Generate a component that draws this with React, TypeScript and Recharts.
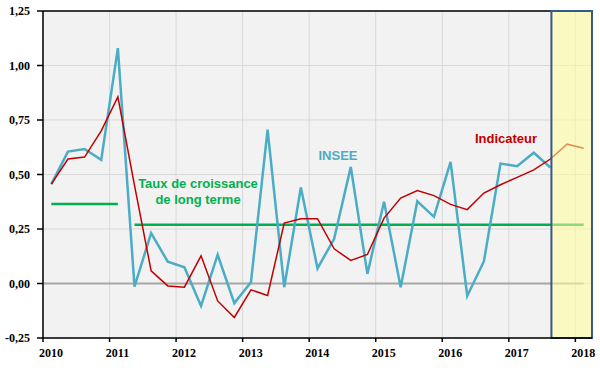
import { LineChart, Line, XAxis, YAxis, CartesianGrid, ReferenceArea, ReferenceLine } from 'recharts';

// trimestres 2010T1 .. 2018T1
const trimestres = [
  '2010T1', '2010T2', '2010T3', '2010T4',
  '2011T1', '2011T2', '2011T3', '2011T4',
  '2012T1', '2012T2', '2012T3', '2012T4',
  '2013T1', '2013T2', '2013T3', '2013T4',
  '2014T1', '2014T2', '2014T3', '2014T4',
  '2015T1', '2015T2', '2015T3', '2015T4',
  '2016T1', '2016T2', '2016T3', '2016T4',
  '2017T1', '2017T2', '2017T3', '2017T4',
  '2018T1',
];

const insee = [
  0.456, 0.605, 0.617, 0.567,
  1.08, -0.014, 0.231, 0.1,
  0.074, -0.103, 0.132, -0.09,
  0.006, 0.706, -0.017, 0.44,
  0.069, 0.205, 0.535, 0.044,
  0.375, -0.017, 0.377, 0.306,
  0.558, -0.057, 0.101, 0.55,
  0.538, 0.6, 0.532,
];

const indicateur = [
  0.456, 0.571, 0.58, 0.7,
  0.856, 0.45, 0.058, -0.011,
  -0.017, 0.127, -0.08, -0.156,
  -0.029, -0.055, 0.277, 0.297,
  0.297, 0.159, 0.106, 0.133,
  0.3, 0.392, 0.426, 0.403,
  0.363, 0.339, 0.415, 0.453,
  0.487, 0.521, 0.571, 0.639,
  0.62,
];

// taux de croissance de long terme (avant / après 2011T2)
const tauxLongTerme1 = 0.365;
const tauxLongTerme2 = 0.27;
const finPeriode1 = '2011T1';

const annees = [2010, 2011, 2012, 2013, 2014, 2015, 2016, 2017, 2018];
const yTicks = [-0.25, 0, 0.25, 0.5, 0.75, 1, 1.25];

// zone de prévision
const previsionDebut = 2017.64;
const previsionFin = 2018.25;

const toX = (t: string) => Number(t.slice(0, 4)) + (Number(t.slice(5)) - 0.5) / 4;
const idxFin1 = trimestres.indexOf(finPeriode1);

const data = trimestres.map((t, i) => ({
  x: toX(t),
  insee: insee[i] ?? null,
  indicateur: indicateur[i] ?? null,
  lt1: i <= idxFin1 ? tauxLongTerme1 : null,
  lt2: i > idxFin1 ? tauxLongTerme2 : null,
}));

const fmt = (v: number) => v.toFixed(2).replace('.', ',');

const serif = '"Liberation Serif", "Times New Roman", serif';

const XTick = ({ x, y, payload }: any) => (
  <text x={x + 8} y={y} dy="0.71em" textAnchor="middle"
    style={{ fontFamily: serif, fontWeight: 'bold', fontSize: 12 }} fill="#000">
    {payload.value}
  </text>
);

const YTick = ({ x, y, payload }: any) => (
  <text x={x} y={y} dy="0.355em" textAnchor="end"
    style={{ fontFamily: serif, fontWeight: 'bold', fontSize: 12 }} fill="#000">
    {fmt(payload.value)}
  </text>
);

const lbl = { position: 'absolute' as const, fontFamily: '"Liberation Sans", Arial, sans-serif', fontWeight: 'bold' as const, fontSize: 13, whiteSpace: 'nowrap' as const, transform: 'translate(-50%, -50%)', lineHeight: 1 };

export default function App() {
  return (
    <div style={{ position: 'absolute', left: 0, top: 0, width: 600, height: 371, background: '#fff' }}>
      <LineChart width={600} height={371} data={data} margin={{ top: 11, right: 8, left: 0, bottom: 0 }}>
        <CartesianGrid stroke="#d9d9d9" fill="#f2f2f2" />
        <XAxis dataKey="x" type="number" domain={[2010, 2018.25]} ticks={annees} allowDataOverflow
          height={33} stroke="#000" strokeWidth={1.5} tickSize={4} tickMargin={6} tick={<XTick />} />
        <YAxis type="number" domain={[-0.25, 1.25]} ticks={yTicks} width={43} stroke="#000" strokeWidth={1.5}
          tickSize={6} tickMargin={7} allowDataOverflow tick={<YTick />} />
        <ReferenceLine y={1.25} stroke="#000" strokeWidth={1.5} />
        <ReferenceLine segment={[{ x: 2010, y: 0 }, { x: 2018.125, y: 0 }]} stroke="#a6a6a6" strokeWidth={2} />
        <Line dataKey="lt1" stroke="#00b050" strokeWidth={2.5} dot={false} isAnimationActive={false} connectNulls={false} />
        <Line dataKey="lt2" stroke="#00b050" strokeWidth={2.5} dot={false} isAnimationActive={false} connectNulls={false} />
        <Line dataKey="insee" stroke="#4bacc6" strokeWidth={2.5} dot={false} isAnimationActive={false} />
        <Line dataKey="indicateur" stroke="#c00000" strokeWidth={1.5} dot={false} isAnimationActive={false} />
        <ReferenceArea x1={previsionDebut} x2={previsionFin} y1={-0.25} y2={1.25} zIndex={450}
          fill="#ffff99" fillOpacity={0.55} stroke="#345a86" strokeWidth={2} strokeOpacity={1} />
      </LineChart>
      <div style={{ ...lbl, left: 338, top: 155, color: '#4bacc6' }}>INSEE</div>
      <div style={{ ...lbl, left: 506, top: 138, color: '#c00000' }}>Indicateur</div>
      <div style={{ ...lbl, left: 198, top: 183, color: '#00b050' }}>Taux de croissance</div>
      <div style={{ ...lbl, left: 198, top: 199, color: '#00b050' }}>de long terme</div>
    </div>
  );
}
